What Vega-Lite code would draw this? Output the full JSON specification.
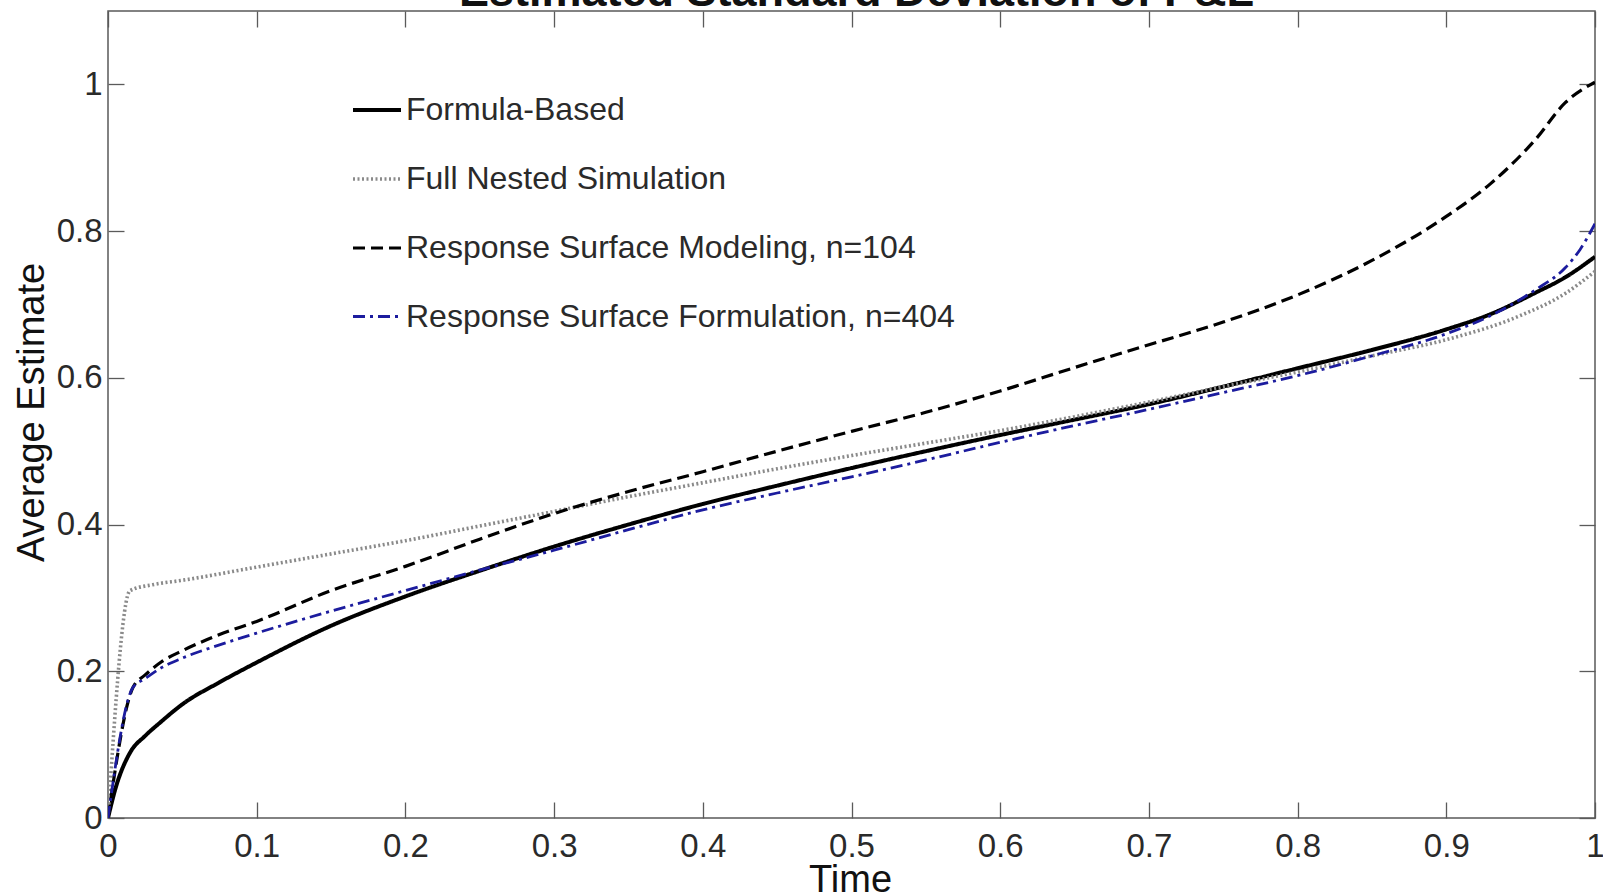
{
  "$schema": "https://vega.github.io/schema/vega-lite/v6.json",
  "width": 1487,
  "height": 807,
  "autosize": {"type": "none"},
  "padding": {"left": 108, "top": 11, "right": 8, "bottom": 77},
  "background": "white",
  "data": {"values": [
    {"t": 0, "v": 0, "s": "Formula-Based"},
    {"t": 0.005, "v": 0.04, "s": "Formula-Based"},
    {"t": 0.0148, "v": 0.089, "s": "Formula-Based"},
    {"t": 0.025, "v": 0.112, "s": "Formula-Based"},
    {"t": 0.035, "v": 0.13, "s": "Formula-Based"},
    {"t": 0.05, "v": 0.155, "s": "Formula-Based"},
    {"t": 0.075, "v": 0.185, "s": "Formula-Based"},
    {"t": 0.1, "v": 0.212, "s": "Formula-Based"},
    {"t": 0.15, "v": 0.262, "s": "Formula-Based"},
    {"t": 0.2, "v": 0.302, "s": "Formula-Based"},
    {"t": 0.25, "v": 0.337, "s": "Formula-Based"},
    {"t": 0.3, "v": 0.37, "s": "Formula-Based"},
    {"t": 0.35, "v": 0.4, "s": "Formula-Based"},
    {"t": 0.4, "v": 0.428, "s": "Formula-Based"},
    {"t": 0.45, "v": 0.453, "s": "Formula-Based"},
    {"t": 0.5, "v": 0.477, "s": "Formula-Based"},
    {"t": 0.55, "v": 0.5, "s": "Formula-Based"},
    {"t": 0.6, "v": 0.522, "s": "Formula-Based"},
    {"t": 0.65, "v": 0.543, "s": "Formula-Based"},
    {"t": 0.7, "v": 0.564, "s": "Formula-Based"},
    {"t": 0.75, "v": 0.588, "s": "Formula-Based"},
    {"t": 0.8, "v": 0.613, "s": "Formula-Based"},
    {"t": 0.85, "v": 0.638, "s": "Formula-Based"},
    {"t": 0.9, "v": 0.666, "s": "Formula-Based"},
    {"t": 0.93, "v": 0.687, "s": "Formula-Based"},
    {"t": 0.96, "v": 0.716, "s": "Formula-Based"},
    {"t": 0.98, "v": 0.737, "s": "Formula-Based"},
    {"t": 1.0, "v": 0.765, "s": "Formula-Based"},

    {"t": 0, "v": 0, "s": "Full Nested Simulation"},
    {"t": 0.0148, "v": 0.31, "s": "Full Nested Simulation"},
    {"t": 0.03, "v": 0.318, "s": "Full Nested Simulation"},
    {"t": 0.05, "v": 0.324, "s": "Full Nested Simulation"},
    {"t": 0.1, "v": 0.342, "s": "Full Nested Simulation"},
    {"t": 0.15, "v": 0.36, "s": "Full Nested Simulation"},
    {"t": 0.2, "v": 0.378, "s": "Full Nested Simulation"},
    {"t": 0.25, "v": 0.398, "s": "Full Nested Simulation"},
    {"t": 0.3, "v": 0.418, "s": "Full Nested Simulation"},
    {"t": 0.35, "v": 0.438, "s": "Full Nested Simulation"},
    {"t": 0.4, "v": 0.457, "s": "Full Nested Simulation"},
    {"t": 0.45, "v": 0.476, "s": "Full Nested Simulation"},
    {"t": 0.5, "v": 0.494, "s": "Full Nested Simulation"},
    {"t": 0.55, "v": 0.511, "s": "Full Nested Simulation"},
    {"t": 0.6, "v": 0.528, "s": "Full Nested Simulation"},
    {"t": 0.65, "v": 0.547, "s": "Full Nested Simulation"},
    {"t": 0.7, "v": 0.567, "s": "Full Nested Simulation"},
    {"t": 0.75, "v": 0.588, "s": "Full Nested Simulation"},
    {"t": 0.8, "v": 0.608, "s": "Full Nested Simulation"},
    {"t": 0.85, "v": 0.63, "s": "Full Nested Simulation"},
    {"t": 0.9, "v": 0.652, "s": "Full Nested Simulation"},
    {"t": 0.95, "v": 0.685, "s": "Full Nested Simulation"},
    {"t": 0.98, "v": 0.715, "s": "Full Nested Simulation"},
    {"t": 1.0, "v": 0.745, "s": "Full Nested Simulation"},

    {"t": 0, "v": 0, "s": "Response Surface Modeling, n=104"},
    {"t": 0.0168, "v": 0.178, "s": "Response Surface Modeling, n=104"},
    {"t": 0.025, "v": 0.195, "s": "Response Surface Modeling, n=104"},
    {"t": 0.036, "v": 0.213, "s": "Response Surface Modeling, n=104"},
    {"t": 0.05, "v": 0.228, "s": "Response Surface Modeling, n=104"},
    {"t": 0.075, "v": 0.25, "s": "Response Surface Modeling, n=104"},
    {"t": 0.1, "v": 0.268, "s": "Response Surface Modeling, n=104"},
    {"t": 0.15, "v": 0.31, "s": "Response Surface Modeling, n=104"},
    {"t": 0.2, "v": 0.343, "s": "Response Surface Modeling, n=104"},
    {"t": 0.25, "v": 0.38, "s": "Response Surface Modeling, n=104"},
    {"t": 0.3, "v": 0.415, "s": "Response Surface Modeling, n=104"},
    {"t": 0.35, "v": 0.445, "s": "Response Surface Modeling, n=104"},
    {"t": 0.4, "v": 0.472, "s": "Response Surface Modeling, n=104"},
    {"t": 0.45, "v": 0.5, "s": "Response Surface Modeling, n=104"},
    {"t": 0.5, "v": 0.527, "s": "Response Surface Modeling, n=104"},
    {"t": 0.55, "v": 0.553, "s": "Response Surface Modeling, n=104"},
    {"t": 0.6, "v": 0.582, "s": "Response Surface Modeling, n=104"},
    {"t": 0.65, "v": 0.614, "s": "Response Surface Modeling, n=104"},
    {"t": 0.7, "v": 0.645, "s": "Response Surface Modeling, n=104"},
    {"t": 0.75, "v": 0.676, "s": "Response Surface Modeling, n=104"},
    {"t": 0.8, "v": 0.713, "s": "Response Surface Modeling, n=104"},
    {"t": 0.85, "v": 0.76, "s": "Response Surface Modeling, n=104"},
    {"t": 0.9, "v": 0.82, "s": "Response Surface Modeling, n=104"},
    {"t": 0.93, "v": 0.865, "s": "Response Surface Modeling, n=104"},
    {"t": 0.96, "v": 0.925, "s": "Response Surface Modeling, n=104"},
    {"t": 0.98, "v": 0.975, "s": "Response Surface Modeling, n=104"},
    {"t": 1.0, "v": 1.003, "s": "Response Surface Modeling, n=104"},

    {"t": 0, "v": 0, "s": "Response Surface Formulation, n=404"},
    {"t": 0.0168, "v": 0.178, "s": "Response Surface Formulation, n=404"},
    {"t": 0.025, "v": 0.19, "s": "Response Surface Formulation, n=404"},
    {"t": 0.036, "v": 0.205, "s": "Response Surface Formulation, n=404"},
    {"t": 0.05, "v": 0.218, "s": "Response Surface Formulation, n=404"},
    {"t": 0.075, "v": 0.236, "s": "Response Surface Formulation, n=404"},
    {"t": 0.1, "v": 0.252, "s": "Response Surface Formulation, n=404"},
    {"t": 0.15, "v": 0.282, "s": "Response Surface Formulation, n=404"},
    {"t": 0.2, "v": 0.31, "s": "Response Surface Formulation, n=404"},
    {"t": 0.25, "v": 0.338, "s": "Response Surface Formulation, n=404"},
    {"t": 0.3, "v": 0.365, "s": "Response Surface Formulation, n=404"},
    {"t": 0.35, "v": 0.393, "s": "Response Surface Formulation, n=404"},
    {"t": 0.4, "v": 0.42, "s": "Response Surface Formulation, n=404"},
    {"t": 0.45, "v": 0.443, "s": "Response Surface Formulation, n=404"},
    {"t": 0.5, "v": 0.465, "s": "Response Surface Formulation, n=404"},
    {"t": 0.55, "v": 0.488, "s": "Response Surface Formulation, n=404"},
    {"t": 0.6, "v": 0.512, "s": "Response Surface Formulation, n=404"},
    {"t": 0.65, "v": 0.535, "s": "Response Surface Formulation, n=404"},
    {"t": 0.7, "v": 0.557, "s": "Response Surface Formulation, n=404"},
    {"t": 0.75, "v": 0.58, "s": "Response Surface Formulation, n=404"},
    {"t": 0.8, "v": 0.603, "s": "Response Surface Formulation, n=404"},
    {"t": 0.85, "v": 0.63, "s": "Response Surface Formulation, n=404"},
    {"t": 0.9, "v": 0.66, "s": "Response Surface Formulation, n=404"},
    {"t": 0.93, "v": 0.685, "s": "Response Surface Formulation, n=404"},
    {"t": 0.96, "v": 0.72, "s": "Response Surface Formulation, n=404"},
    {"t": 0.98, "v": 0.75, "s": "Response Surface Formulation, n=404"},
    {"t": 0.99, "v": 0.775, "s": "Response Surface Formulation, n=404"},
    {"t": 1.0, "v": 0.81, "s": "Response Surface Formulation, n=404"}
  ]},
  "layer": [
    {
      "mark": {"type": "line", "interpolate": "monotone", "clip": true},
      "encoding": {
        "x": {"field": "t", "type": "quantitative", "scale": {"domain": [0, 1], "nice": false, "zero": false},
              "axis": {"orient": "bottom", "title": "Time", "values": [0, 0.1, 0.2, 0.3, 0.4, 0.5, 0.6, 0.7, 0.8, 0.9, 1], "format": "~g", "labelPadding": 28, "titleX": 742, "titleY": 73, "titleBaseline": "alphabetic", "titleAnchor": "middle"}},
        "y": {"field": "v", "type": "quantitative", "scale": {"domain": [0, 1.1], "nice": false},
              "axis": {"orient": "left", "title": "Average Estimate", "values": [0, 0.2, 0.4, 0.6, 0.8, 1], "format": "~g", "labelPadding": 22, "titleX": -65, "titleY": 401, "titleBaseline": "alphabetic", "titleAngle": -90, "titleAlign": "center"}},
        "color": {"field": "s", "type": "nominal", "title": null,
                  "scale": {"domain": ["Formula-Based", "Full Nested Simulation", "Response Surface Modeling, n=104", "Response Surface Formulation, n=404"],
                            "range": ["#000000", "#8a8a8a", "#000000", "#1c1c9e"]}},
        "strokeDash": {"field": "s", "type": "nominal", "title": null,
                  "scale": {"domain": ["Formula-Based", "Full Nested Simulation", "Response Surface Modeling, n=104", "Response Surface Formulation, n=404"],
                            "range": [[1, 0], [2, 2.5], [12, 6], [12, 5, 3, 5]]}},
        "strokeWidth": {"field": "s", "type": "nominal", "title": null,
                  "scale": {"domain": ["Formula-Based", "Full Nested Simulation", "Response Surface Modeling, n=104", "Response Surface Formulation, n=404"],
                            "range": [4, 2.8, 4.5, 4.5]}}
      }
    },
    {
      "mark": {"type": "line", "opacity": 0, "strokeWidth": 0},
      "encoding": {
        "x": {"field": "t", "type": "quantitative", "axis": {"orient": "top", "title": "Estimated Standard Deviation of P&L", "titleFontSize": 45, "titleFontWeight": "bold", "titleX": 748, "titleY": -6, "titleBaseline": "alphabetic", "titleAnchor": "middle", "titleAlign": "center", "labels": false, "values": [0, 0.1, 0.2, 0.3, 0.4, 0.5, 0.6, 0.7, 0.8, 0.9, 1]}},
        "y": {"field": "v", "type": "quantitative", "axis": {"orient": "right", "title": null, "labels": false, "values": [0, 0.2, 0.4, 0.6, 0.8, 1]}}
      }
    }
  ],
  "resolve": {"axis": {"x": "independent", "y": "independent"}},
  "config": {
    "font": "Liberation Sans",
    "view": {"stroke": "#5a5a5a", "strokeWidth": 1.5},
    "axis": {"domain": false, "grid": false, "tickSize": -16, "tickColor": "#5a5a5a", "tickWidth": 1.3,
             "labelFontSize": 33, "labelColor": "#2a2a2a", "labelFlush": false, "labelOverlap": false,
             "titleFontSize": 38, "titleFontWeight": "normal", "titleColor": "#111111"},
    "legend": {"orient": "none", "legendX": 243, "legendY": 73, "padding": 0, "symbolType": "stroke", "symbolSize": 2304,
               "labelFontSize": 32, "labelColor": "#2a2a2a", "labelOffset": 3, "rowPadding": 27, "labelLimit": 800}
  }
}
